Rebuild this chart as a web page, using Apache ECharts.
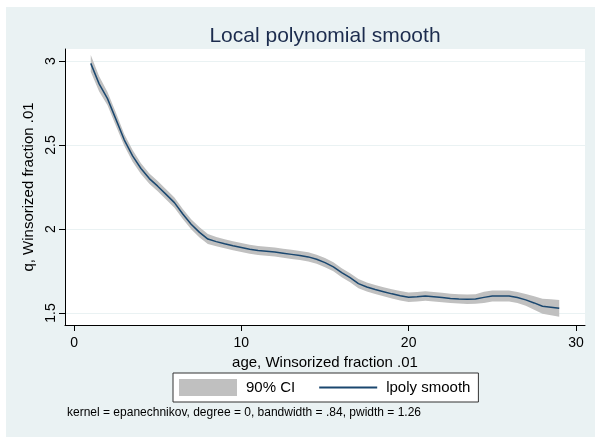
<!DOCTYPE html>
<html>
<head>
<meta charset="utf-8">
<title>Local polynomial smooth</title>
<script src="https://cdn.jsdelivr.net/npm/echarts@6/dist/echarts.min.js"></script>
<style>
  html, body { margin: 0; padding: 0; background: #fff; }
  #chart { width: 595px; height: 437px; }
</style>
</head>
<body>
<div id="chart"></div>
<script>
// grid of evaluation points (age)
const ageGrid = [1, 1.5, 2, 2.5, 3, 3.5, 4, 4.5, 5, 5.5, 6, 6.5, 7, 7.5, 8, 8.5, 9, 9.5,
  10, 10.5, 11, 11.5, 12, 12.5, 13, 13.5, 14, 14.5, 15, 15.5, 16, 16.5, 17, 17.5,
  18, 18.5, 19, 19.5, 20, 20.5, 21, 21.5, 22, 22.5, 23, 23.5, 24, 24.5, 25, 25.5,
  26, 26.5, 27, 27.5, 28, 28.5, 29];

// lpoly smooth
const smooth = [2.986, 2.864, 2.776, 2.654, 2.531, 2.435, 2.360, 2.300, 2.255, 2.206,
  2.157, 2.089, 2.028, 1.980, 1.940, 1.925, 1.912, 1.900, 1.890, 1.880, 1.872, 1.868,
  1.863, 1.856, 1.849, 1.842, 1.834, 1.820, 1.800, 1.775, 1.740, 1.710, 1.675, 1.655,
  1.640, 1.627, 1.614, 1.603, 1.594, 1.597, 1.601, 1.597, 1.592, 1.587, 1.584, 1.582,
  1.583, 1.593, 1.601, 1.601, 1.601, 1.592, 1.578, 1.560, 1.540, 1.534, 1.528];

// 90% CI bounds
const ciHigh = [3.036, 2.909, 2.816, 2.694, 2.566, 2.470, 2.392, 2.330, 2.285, 2.236,
  2.187, 2.119, 2.058, 2.010, 1.970, 1.952, 1.939, 1.927, 1.917, 1.907, 1.899, 1.895,
  1.890, 1.883, 1.876, 1.869, 1.861, 1.847, 1.827, 1.802, 1.767, 1.737, 1.702, 1.682,
  1.667, 1.654, 1.641, 1.631, 1.622, 1.625, 1.629, 1.625, 1.620, 1.615, 1.612, 1.610,
  1.611, 1.626, 1.634, 1.634, 1.634, 1.625, 1.613, 1.600, 1.585, 1.582, 1.578];
const ciLow = [2.936, 2.819, 2.736, 2.614, 2.496, 2.400, 2.328, 2.270, 2.225, 2.176,
  2.127, 2.059, 1.998, 1.950, 1.910, 1.898, 1.885, 1.873, 1.863, 1.853, 1.845, 1.841,
  1.836, 1.829, 1.822, 1.815, 1.807, 1.793, 1.773, 1.748, 1.713, 1.683, 1.648, 1.628,
  1.613, 1.600, 1.587, 1.575, 1.566, 1.569, 1.573, 1.569, 1.564, 1.559, 1.556, 1.554,
  1.555, 1.560, 1.568, 1.568, 1.568, 1.559, 1.543, 1.520, 1.495, 1.486, 1.478];

const xTicks = [0, 10, 20, 30];
const yTicks = [1.5, 2, 2.5, 3];

const font = "'Liberation Sans', Arial, sans-serif";

const chart = echarts.init(document.getElementById("chart"));

chart.setOption({
  animation: false,
  backgroundColor: "#EAF2F3",
  textStyle: { fontFamily: font },
  graphic: [
    // white outer margin like the original export
    { type: "rect", left: 0, top: 0, shape: { width: 595, height: 7 }, style: { fill: "#fff" } },
    { type: "rect", left: 0, top: 0, shape: { width: 6, height: 437 }, style: { fill: "#fff" } },
    {
      type: "text",
      left: 67,
      top: 407,
      style: {
        text: "kernel = epanechnikov, degree = 0, bandwidth = .84, pwidth = 1.26",
        fill: "#000",
        font: "12px " + font,
      },
    },
  ],
  title: {
    text: "Local polynomial smooth",
    left: 320,
    top: 21,
    textAlign: "center",
    textStyle: { fontSize: 21, fontWeight: "normal", color: "#1C2C4E", fontFamily: font },
  },
  legend: {
    left: 173,
    top: 373,
    padding: [6, 8, 6, 6],
    itemGap: 23,
    itemWidth: 58,
    itemHeight: 17,
    backgroundColor: "#fff",
    borderColor: "#333",
    borderWidth: 1,
    borderRadius: 0,
    textStyle: { fontSize: 15, color: "#000", fontFamily: font, padding: [0, 0, 0, 4] },
    data: [
      { name: "90% CI", icon: "rect", itemStyle: { color: "#C0C0C0" } },
      { name: "lpoly smooth", itemStyle: { opacity: 0 } },
    ],
  },
  grid: {
    show: true,
    backgroundColor: "#fff",
    borderWidth: 0,
    left: 65,
    right: 10,
    top: 49,
    bottom: 112,
  },
  xAxis: {
    type: "value",
    min: -0.54,
    max: 30.54,
    name: "age, Winsorized fraction .01",
    nameLocation: "middle",
    nameGap: 20,
    nameTextStyle: { fontSize: 15, color: "#000" },
    axisLine: { onZero: false, lineStyle: { color: "#000", width: 1 } },
    axisTick: { customValues: xTicks, length: 6, lineStyle: { color: "#000" } },
    axisLabel: { customValues: xTicks, fontSize: 14, color: "#000", margin: 11 },
    splitLine: { show: false },
  },
  yAxis: {
    type: "value",
    min: 1.4286,
    max: 3.0714,
    name: "q, Winsorized fraction .01",
    nameLocation: "middle",
    nameGap: 22,
    nameTextStyle: { fontSize: 15, color: "#000" },
    axisLine: { show: true, onZero: false, lineStyle: { color: "#000", width: 1 } },
    axisTick: { show: true, customValues: yTicks, length: 6, lineStyle: { color: "#000" } },
    axisLabel: { customValues: yTicks, fontSize: 14, color: "#000", rotate: 90, margin: 7 },
    splitLine: { show: true, lineStyle: { color: "#EAF2F3", width: 1 } },
  },
  series: [
    {
      name: "90% CI",
      type: "custom",
      itemStyle: { color: "#C0C0C0" },
      data: ageGrid.map((x, i) => [x, ciLow[i], ciHigh[i]]),
      encode: { x: 0, y: [1, 2] },
      renderItem: function (params, api) {
        if (params.dataIndex !== 0) return null;
        const pts = [];
        for (let i = 0; i < ageGrid.length; i++) pts.push(api.coord([ageGrid[i], ciHigh[i]]));
        for (let i = ageGrid.length - 1; i >= 0; i--) pts.push(api.coord([ageGrid[i], ciLow[i]]));
        return { type: "polygon", shape: { points: pts }, style: { fill: "#C0C0C0" } };
      },
      z: 1,
    },
    {
      name: "lpoly smooth",
      type: "line",
      symbol: "none",
      color: "#1A476F",
      itemStyle: { opacity: 0 },
      lineStyle: { color: "#1A476F", width: 1.5, opacity: 1 },
      data: ageGrid.map((x, i) => [x, smooth[i]]),
      z: 2,
    },
  ],
});
</script>
</body>
</html>
